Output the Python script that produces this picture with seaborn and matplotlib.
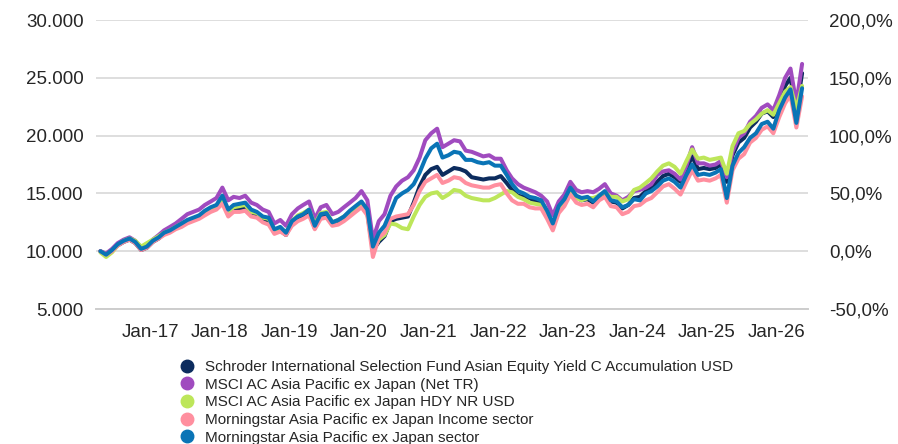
import numpy as np
import pandas as pd
import matplotlib
matplotlib.use("Agg")
import matplotlib.pyplot as plt
import matplotlib.dates as mdates
from matplotlib.ticker import FuncFormatter, FixedLocator
from matplotlib.lines import Line2D
import seaborn as sns

# ---------------- data (values of 10,000 invested, in thousands) ----------------
UNIT = 1000
months = pd.date_range("2016-04-01", periods=122, freq="MS") + pd.Timedelta(days=14)

fund = [  # Schroder ISF Asian Equity Yield C Acc USD
    10.0, 9.7, 10.1, 10.5, 10.8, 11.0, 10.7, 10.1, 10.3,
    10.8, 11.1, 11.5, 11.7, 12.0, 12.3, 12.5, 12.7, 12.9, 13.3, 13.5, 13.7,
    14.5, 13.3, 13.6, 13.7, 13.8, 13.3, 13.1, 12.7, 12.6, 11.6, 11.8, 11.4,
    12.4, 12.8, 13.0, 13.4, 12.0, 13.0, 13.1, 12.3, 12.5, 12.8, 13.2, 13.6,
    14.0, 13.3, 10.1, 10.8, 11.3, 12.6, 12.8, 12.9, 13.0, 14.2, 15.6, 16.6,
    17.1, 17.3, 16.6, 16.9, 17.2, 17.1, 16.9, 16.4, 16.3, 16.2, 16.3, 16.3,
    16.5, 15.9, 15.3, 14.8, 14.7, 14.6, 14.3, 14.1, 13.2, 12.2, 13.6, 14.4,
    15.3, 14.7, 14.4, 14.5, 14.2, 14.6, 15.0, 14.3, 14.2, 13.7, 14.0, 14.6,
    14.7, 15.2, 15.5, 16.0, 16.5, 16.7, 16.4, 16.0, 17.1, 18.2, 17.1, 17.2,
    17.1, 17.2, 17.5, 16.0, 18.3, 19.4, 19.8, 20.7, 21.2, 21.9, 22.1, 21.6,
    22.9, 24.3, 25.0, 22.2, 25.4,
]
msci = [  # MSCI AC Asia Pacific ex Japan (Net TR)
    10.0, 9.8, 10.2, 10.7, 11.0, 11.2, 10.9, 10.3, 10.5,
    11.0, 11.4, 11.8, 12.1, 12.4, 12.8, 13.2, 13.4, 13.6, 14.0, 14.3, 14.6,
    15.5, 14.4, 14.7, 14.6, 14.8, 14.2, 14.0, 13.6, 13.4, 12.4, 12.7, 12.2,
    13.2, 13.7, 14.0, 14.3, 12.8, 13.8, 14.0, 13.2, 13.4, 13.8, 14.2, 14.6,
    15.2, 14.4, 11.0, 12.6, 13.2, 14.8, 15.6, 16.1, 16.4, 17.0, 18.1, 19.6,
    20.2, 20.6, 19.0, 19.3, 19.6, 19.5, 18.7, 18.6, 18.4, 18.2, 18.3, 18.0,
    18.0, 17.0, 16.3, 15.8, 15.5, 15.3, 15.1, 14.8, 14.3, 13.1, 14.3, 14.9,
    16.0, 15.3, 15.1, 15.2, 15.1, 15.4, 15.8, 15.0, 14.8, 14.4, 14.7, 15.2,
    15.3, 15.5, 15.8, 16.6, 16.9, 17.0, 16.7, 16.2, 17.4, 19.0, 17.6, 17.6,
    17.4, 17.5, 17.8, 16.4, 18.6, 19.8, 20.2, 21.2, 21.7, 22.4, 22.7, 22.2,
    23.5, 25.0, 25.8, 22.8, 26.2,
]
hdy = [  # MSCI AC Asia Pacific ex Japan HDY NR USD
    9.9, 9.5, 9.9, 10.5, 10.9, 11.1, 10.9, 10.4, 10.7,
    11.0, 11.3, 11.6, 11.8, 12.1, 12.4, 12.6, 12.8, 12.9, 13.3, 13.6, 13.8,
    14.5, 13.4, 13.8, 13.9, 14.0, 13.4, 13.3, 12.9, 12.8, 11.8, 12.0, 11.6,
    12.6, 13.1, 13.3, 13.6, 12.3, 13.3, 13.4, 12.5, 12.7, 13.0, 13.3, 13.7,
    14.0, 13.2, 10.0, 11.0, 11.4, 12.4, 12.3, 12.0, 11.9, 13.0, 14.0, 14.7,
    15.0, 15.1, 14.6, 14.9, 15.3, 15.2, 14.8, 14.6, 14.5, 14.4, 14.4, 14.6,
    14.9, 15.2, 15.1, 14.7, 14.5, 14.2, 14.1, 14.0, 13.3, 12.3, 13.6, 14.4,
    15.2, 14.6, 14.4, 14.6, 14.6, 14.8, 15.1, 14.7, 14.7, 14.3, 14.5, 15.3,
    15.5, 15.9, 16.3, 16.9, 17.4, 17.6, 17.3, 16.7, 17.8, 18.8, 18.0, 18.1,
    17.9, 18.0, 18.1, 16.7, 19.1, 20.2, 20.4, 21.0, 21.4, 21.9, 22.2, 21.8,
    22.8, 23.8, 24.2, 22.3, 24.3,
]
income_sector = [  # Morningstar Asia Pacific ex Japan Income sector
    10.0, 9.7, 10.0, 10.5, 10.8, 11.0, 10.7, 10.1, 10.3,
    10.8, 11.1, 11.4, 11.6, 11.9, 12.1, 12.4, 12.6, 12.8, 13.1, 13.4, 13.6,
    14.1, 13.0, 13.4, 13.4, 13.5, 13.0, 12.9, 12.5, 12.3, 11.5, 11.7, 11.4,
    12.2, 12.6, 12.8, 13.1, 11.9, 12.8, 12.9, 12.2, 12.3, 12.6, 13.0, 13.4,
    13.8, 13.1, 9.5, 11.2, 11.6, 12.8, 13.0, 13.1, 13.2, 14.0, 15.2, 16.0,
    16.3, 16.6, 15.9, 16.1, 16.4, 16.3, 15.9, 15.7, 15.6, 15.5, 15.5, 15.7,
    15.8, 15.0, 14.4, 14.1, 14.1, 13.8, 13.7, 13.7, 12.8, 11.8, 13.3, 13.9,
    14.9, 14.2, 14.0, 14.1, 13.8, 14.4, 14.7, 13.9, 13.8, 13.2, 13.4, 13.9,
    14.0, 14.4, 14.6, 15.1, 15.6, 15.8, 15.4, 14.9, 16.0, 17.0, 16.1, 16.2,
    16.1, 16.3, 16.6, 14.2, 17.0, 18.0, 18.4, 19.4, 19.8, 20.5, 20.8, 20.2,
    21.6, 22.8, 23.5, 20.7, 23.4,
]
sector = [  # Morningstar Asia Pacific ex Japan sector
    10.0, 9.7, 10.1, 10.6, 10.9, 11.1, 10.8, 10.2, 10.4,
    10.9, 11.2, 11.6, 11.8, 12.1, 12.4, 12.7, 12.9, 13.1, 13.5, 13.8, 14.0,
    14.8, 13.6, 14.0, 14.1, 14.2, 13.6, 13.4, 13.0, 12.9, 11.9, 12.1, 11.6,
    12.6, 13.0, 13.2, 13.6, 12.2, 13.2, 13.3, 12.5, 12.7, 13.0, 13.5, 13.9,
    14.3, 13.6, 10.4, 11.6, 12.2, 13.4, 14.6, 15.0, 15.3, 15.8, 16.8, 18.0,
    18.9, 19.3, 18.1, 18.3, 18.6, 18.5, 17.9, 17.9, 17.7, 17.6, 17.7, 17.4,
    17.4, 16.6, 15.8, 15.2, 15.0, 14.7, 14.6, 14.4, 13.5, 12.4, 13.9, 14.5,
    15.5, 14.8, 14.6, 14.7, 14.3, 14.8, 15.2, 14.4, 14.3, 13.8, 14.0, 14.5,
    14.4, 15.0, 15.2, 15.6, 16.1, 16.3, 16.0, 15.5, 16.6, 17.5, 16.6, 16.7,
    16.6, 16.8, 17.1, 14.6, 17.4, 18.5, 19.0, 19.8, 20.2, 21.0, 21.2, 20.6,
    22.2, 23.3, 24.0, 21.1, 24.1,
]

series_names = [
    "Schroder International Selection Fund Asian Equity Yield C Accumulation USD",
    "MSCI AC Asia Pacific ex Japan (Net TR)",
    "MSCI AC Asia Pacific ex Japan HDY NR USD",
    "Morningstar Asia Pacific ex Japan Income sector",
    "Morningstar Asia Pacific ex Japan sector",
]
series_values = [fund, msci, hdy, income_sector, sector]
colors = ["#0c2c5e", "#a04bbf", "#bde65a", "#ff8f9f", "#0a74b6"]

left_ticks = [5000, 10000, 15000, 20000, 25000, 30000]
right_ticks = [-50, 0, 50, 100, 150, 200]
year_ticks = [pd.Timestamp(f"{y}-01-01") for y in range(2017, 2027)]

# ---------------- build long table ----------------
frames = []
for name, vals in zip(series_names, series_values):
    frames.append(pd.DataFrame({"date": months, "value": np.array(vals) * UNIT, "series": name}))
df = pd.concat(frames, ignore_index=True)

# ---------------- plot ----------------
sns.set_theme(style="white")
plt.rcParams["font.family"] = ["Liberation Sans", "DejaVu Sans"]

W, H = 898, 444
fig = plt.figure(figsize=(W / 100, H / 100), dpi=100)
ax = fig.add_axes([96 / W, 1 - 309 / H, (808 - 96) / W, (309 - 20) / H])

sns.lineplot(data=df, x="date", y="value", hue="series", hue_order=series_names,
             palette=colors, linewidth=2.9, ax=ax, legend=False)

ax.set_xlim(pd.Timestamp("2016-03-23"), pd.Timestamp("2026-06-15"))
ax.set_ylim(5000, 30000)
ax.yaxis.set_major_locator(FixedLocator(left_ticks))
ax.yaxis.set_major_formatter(FuncFormatter(lambda v, p: f"{int(round(v)):,}".replace(",", ".")))
ax.xaxis.set_major_locator(FixedLocator([mdates.date2num(d) for d in year_ticks]))
ax.xaxis.set_major_formatter(mdates.DateFormatter("%b-%y"))
ax.set_xlabel("")
ax.set_ylabel("")
ax.grid(axis="y", color="#dedede", linewidth=1.4)
ax.grid(axis="x", visible=False)
ax.set_axisbelow(True)
for s in ["top", "right", "left"]:
    ax.spines[s].set_visible(False)
ax.spines["bottom"].set_color("#cdcdcd")
ax.spines["bottom"].set_linewidth(1.4)
ax.tick_params(axis="y", length=0, pad=9, labelsize=13.5, labelcolor="#262626")
ax.tick_params(axis="x", length=0, pad=11, labelsize=13.5, labelcolor="#262626")

ax2 = ax.twinx()
ax2.set_ylim(-50, 200)
ax2.yaxis.set_major_locator(FixedLocator(right_ticks))
ax2.yaxis.set_major_formatter(FuncFormatter(lambda v, p: f"{v:.1f}%".replace(".", ",")))
ax2.grid(False)
for s in ax2.spines.values():
    s.set_visible(False)
ax2.tick_params(axis="y", length=0, pad=15, labelsize=13.5, labelcolor="#262626")

handles = [Line2D([0], [0], marker="o", linestyle="none", markersize=9,
                  markerfacecolor=c, markeredgecolor=c) for c in colors]
fig.legend(handles, series_names, loc="upper left",
           bbox_to_anchor=(180 / W, 1 - 360 / H), frameon=False,
           fontsize=11, labelspacing=0.24, handlelength=0.9, handletextpad=0.75,
           borderpad=0, borderaxespad=0, labelcolor="#262626")

fig.savefig("out.png", dpi=100, facecolor="white")
